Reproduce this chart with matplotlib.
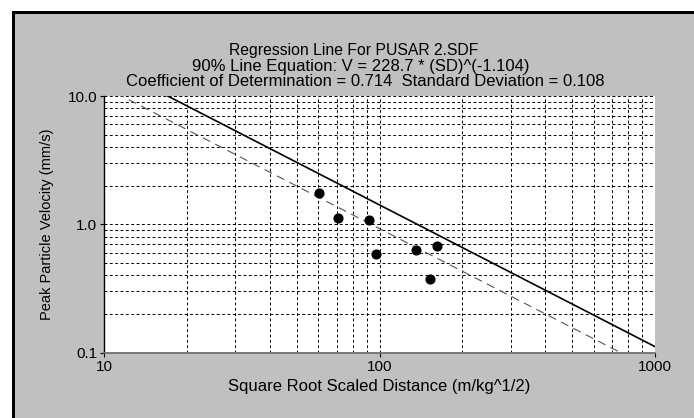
import numpy as np
import matplotlib.pyplot as plt
from matplotlib.patches import Rectangle
from matplotlib.ticker import LogLocator, NullFormatter

# ---- data ----
scaled_distance = [60.3, 70.6, 91.6, 97.1, 135.5, 152.5, 161.7]
peak_velocity = [1.75, 1.12, 1.08, 0.586, 0.63, 0.374, 0.676]

# regression lines  V = K * SD^b
slope = -1.104
k_90 = 228.7      # 90% line (solid)
k_mean = 149.5    # mean line (dashed)

x_ticks = [10, 100, 1000]
x_tick_labels = ["10", "100", "1000"]
y_ticks = [0.1, 1.0, 10.0]
y_tick_labels = ["0.1", "1.0", "10.0"]

title_lines = [
    "Regression Line For PUSAR 2.SDF",
    "90% Line Equation: V = 228.7 * (SD)^(-1.104)",
    "Coefficient of Determination = 0.714  Standard Deviation = 0.108",
]

plt.rcParams['font.family'] = ['Liberation Sans', 'DejaVu Sans']

W, H = 694, 418
fig = plt.figure(figsize=(W / 100, H / 100), dpi=100)
fig.patch.set_facecolor('white')
fig.patch.set_edgecolor('none')
fig.patch.set_linewidth(0)

# gray panel, thick black frame on top and left only (filled bars, no strokes)
fig.patches.append(Rectangle((12 / W, 0), 1 - 12 / W, 1 - 11 / H,
                             transform=fig.transFigure, facecolor='#c0c0c0',
                             edgecolor='none', zorder=-10))
fig.patches.append(Rectangle((12 / W, 0), 3.3 / W, 1 - 11 / H,
                             transform=fig.transFigure, facecolor='black',
                             edgecolor='none', zorder=-9))
fig.patches.append(Rectangle((12 / W, 1 - 14 / H), 1 - 12 / W, 3 / H,
                             transform=fig.transFigure, facecolor='black',
                             edgecolor='none', zorder=-9))

ax = fig.add_axes([104 / W, 1 - 352.7 / H, (655 - 104) / W, (352.7 - 96) / H])
ax.set_facecolor('white')
ax.set_xscale('log')
ax.set_yscale('log')
ax.set_xlim(10, 1000)
ax.set_ylim(0.1, 10)

ax.xaxis.set_minor_locator(LogLocator(subs=np.arange(2, 10)))
ax.yaxis.set_minor_locator(LogLocator(subs=np.arange(2, 10)))
ax.xaxis.set_minor_formatter(NullFormatter())
ax.yaxis.set_minor_formatter(NullFormatter())

# grid on every decade step
ax.grid(True, which='both', color='black', linestyle=(0, (3, 2.5)),
        linewidth=0.7)
ax.set_axisbelow(True)

sd_line = np.array([10.0, 1000.0])
ax.plot(sd_line, k_90 * sd_line ** slope, color='black', linewidth=1.2,
        zorder=3)
ax.plot(sd_line, k_mean * sd_line ** slope, color='#555555', linewidth=0.8,
        linestyle=(0, (7.5, 5)), zorder=3)
ax.plot(scaled_distance, peak_velocity, 'o', color='black', markersize=6.3,
        zorder=4)

ax.set_xticks(x_ticks)
ax.set_xticklabels(x_tick_labels)
ax.set_yticks(y_ticks)
ax.set_yticklabels(y_tick_labels)
ax.tick_params(which='minor', length=0)
ax.tick_params(which='major', length=3, width=0.8, labelsize=11, pad=2,
               colors='black')

for side in ['top', 'right']:
    ax.spines[side].set_visible(False)
ax.spines['left'].set_color('black')
ax.spines['left'].set_linewidth(1.0)
ax.spines['bottom'].set_color('#707070')
ax.spines['bottom'].set_linewidth(1.3)

ax.set_xlabel("Square Root Scaled Distance (m/kg^1/2)", fontsize=12,
              labelpad=4)
ax.set_ylabel("Peak Particle Velocity (mm/s)", fontsize=10.5, labelpad=10)

title_x = [354, 361, 365]
title_y = [51, 66.5, 82]
title_size = [11.3, 12, 12]
for line, tx, ty, fs in zip(title_lines, title_x, title_y, title_size):
    fig.text(tx / W, 1 - ty / H, line, ha='center', va='center', fontsize=fs)

fig.savefig("out.png", dpi=100, facecolor='white', edgecolor='none')
